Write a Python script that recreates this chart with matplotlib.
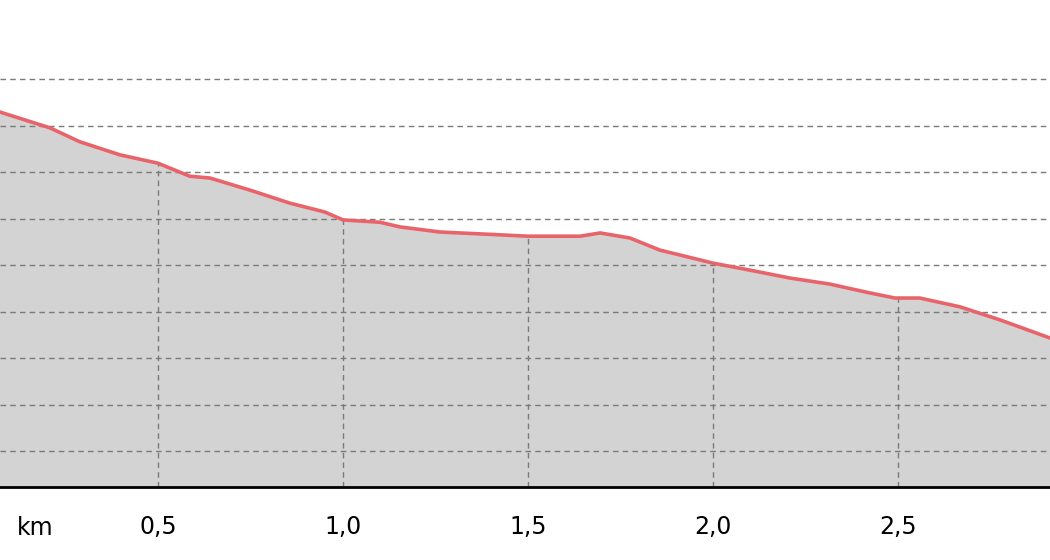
import numpy as np
import matplotlib.pyplot as plt

# elevation profile (distance in km, height in grid units)
dist_km = [0.073, 0.208, 0.289, 0.397, 0.5, 0.586, 0.641, 0.749, 0.857, 0.951, 1.0,
           1.1, 1.154, 1.262, 1.370, 1.5, 1.641, 1.695, 1.776, 1.857, 1.965, 2.0,
           2.1, 2.208, 2.316, 2.424, 2.492, 2.559, 2.668, 2.776, 2.911]
height = [7.29, 6.95, 6.65, 6.37, 6.19, 5.91, 5.87, 5.61, 5.33, 5.14, 4.97,
          4.92, 4.82, 4.71, 4.67, 4.62, 4.62, 4.69, 4.58, 4.32, 4.11, 4.04,
          3.89, 3.72, 3.59, 3.40, 3.29, 3.29, 3.10, 2.82, 2.43]
x_ticks = [0.5, 1.0, 1.5, 2.0, 2.5]
x_labels = ["0,5", "1,0", "1,5", "2,0", "2,5"]
y_grid = list(range(9))

fig = plt.figure(figsize=(10.5, 5.6), dpi=100)
ax = fig.add_axes([0, 73/560, 1, 487/560])
ymin = -0.774
ax.set_xlim(0.073, 2.911)
ax.set_ylim(ymin, 9.70)

ax.fill_between(dist_km, height, ymin, color="#d3d3d3", zorder=1)
for y in y_grid:
    ax.axhline(y, color="#7a7a7a", ls=(0, (4, 3)), lw=1, zorder=2)
for x in x_ticks:
    ax.vlines(x, ymin, np.interp(x, dist_km, height), color="#7a7a7a",
              ls=(0, (4, 3)), lw=1, zorder=2)
ax.plot(dist_km, height, color="#e8646a", lw=2.6, zorder=3)

for s in ["left", "right", "top"]:
    ax.spines[s].set_visible(False)
ax.spines["bottom"].set_linewidth(2)
ax.set_yticks([])
ax.set_xticks(x_ticks)
ax.set_xticklabels(x_labels, fontsize=17)
ax.tick_params(axis="x", length=0, pad=20)
ax.text(35/1050, -41/487, "km", transform=ax.transAxes, fontsize=17,
        ha="center", va="center")

fig.savefig("out.png")
